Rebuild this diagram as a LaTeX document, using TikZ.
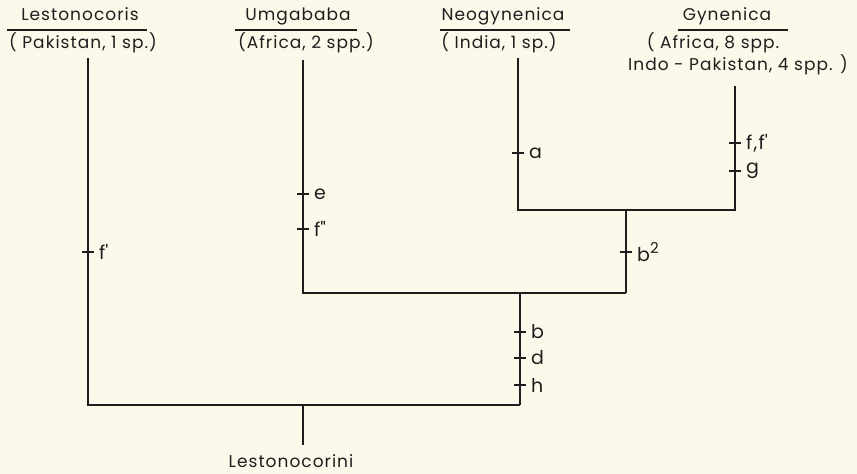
\documentclass[tikz,border=0pt]{standalone}
\usepackage{fontspec}
\setmainfont{Poppins}[LetterSpace=6]
\definecolor{paper}{RGB}{252,249,234}
\definecolor{ink}{RGB}{30,30,30}
\begin{document}
\begin{tikzpicture}[x=1pt,y=-1pt,
  branch/.style={draw=ink,line width=1.8pt},
  uline/.style={draw=ink,line width=1.2pt},
  tickline/.style={draw=ink,line width=1.5pt},
  title/.style={inner sep=0pt,anchor=base,font=\fontsize{17}{19}\selectfont,text=ink},
  ticklab/.style={inner sep=0pt,anchor=west,font=\fontsize{19}{20}\selectfont,text=ink}]
\fill[paper] (0,0) rectangle (857,474);
\useasboundingbox (0,0) rectangle (857,474);
% titles
\node[title] (tL) at (80,20) {Lestonocoris};
\node[title] (dL) at (83,48) {( Pakistan, 1 sp.)};
\node[title] (tU) at (298,20) {Umgababa};
\node[title] (dU) at (306,48) {(Africa, 2 spp.)};
\node[title] (tN) at (503,20) {Neogynenica};
\node[title] (dN) at (499,48) {( India, 1 sp.)};
\node[title] (tG) at (727,20) {Gynenica};
\node[title] (dG) at (713,48) {( Africa, 8 spp.};
\node[title] (dG2) at (738,70) {Indo - Pakistan, 4 spp. )};
\node[title] (root) at (291,467) {Lestonocorini};
% underlines
\coordinate (uLa) at (7,30); \coordinate (uLb) at (147,30);
\coordinate (uUa) at (235,30); \coordinate (uUb) at (357,30);
\coordinate (uNa) at (440,30); \coordinate (uNb) at (570,30);
\coordinate (uGa) at (678,30); \coordinate (uGb) at (788,30);
\draw[uline] (uLa) -- (uLb);
\draw[uline] (uUa) -- (uUb);
\draw[uline] (uNa) -- (uNb);
\draw[uline] (uGa) -- (uGb);
% tree coordinates
\coordinate (L) at (88,58);   \coordinate (Lb) at (88,405);
\coordinate (U) at (303,60);  \coordinate (Ub) at (303,293);
\coordinate (N) at (518,58);  \coordinate (Nb) at (518,210);
\coordinate (G) at (735,86);  \coordinate (Gb) at (735,210);
\coordinate (NG) at (626,210); \coordinate (NGb) at (626,293);
\coordinate (UNG) at (520,293); \coordinate (UNGb) at (520,405);
\coordinate (R) at (303,405); \coordinate (Rb) at (303,445);
\draw[branch] (N) -- (Nb) -- (Gb) -- (G);
\draw[branch] (NG) -- (NGb);
\draw[branch] (U) -- (Ub) -- (NGb);
\draw[branch] (UNG) -- (UNGb);
\draw[branch] (L) -- (Lb) -- (UNGb);
\draw[branch] (R) -- (Rb);
% ticks
\foreach \n/\x/\y in {k1/88/252, k2/303/194, k3/303/229, k4/518/153, k5/735/143, k6/735/171, k7/626/252, k8/520/332, k9/520/358, k10/520/385}{
  \coordinate (\n) at (\x,\y);
  \draw[tickline] ([xshift=-6pt]\n) -- ([xshift=6pt]\n);
}
\node[ticklab] (l1) at ([xshift=11pt]k1) {f\textquotesingle};
\node[ticklab] (l2) at ([xshift=11pt]k2) {e};
\node[ticklab] (l3) at ([xshift=11pt]k3) {f\textquotedbl};
\node[ticklab] (l4) at ([xshift=11pt]k4) {a};
\node[ticklab] (l5) at ([xshift=11pt]k5) {f,f\textquotesingle};
\node[ticklab] (l6) at ([xshift=11pt]k6) {g};
\node[ticklab] (l7) at ([xshift=11pt]k7) {b\raisebox{0.75ex}{\fontsize{15}{16}\selectfont 2}};
\node[ticklab] (l8) at ([xshift=11pt]k8) {b};
\node[ticklab] (l9) at ([xshift=11pt]k9) {d};
\node[ticklab] (l10) at ([xshift=11pt]k10) {h};
\end{tikzpicture}
\end{document}
